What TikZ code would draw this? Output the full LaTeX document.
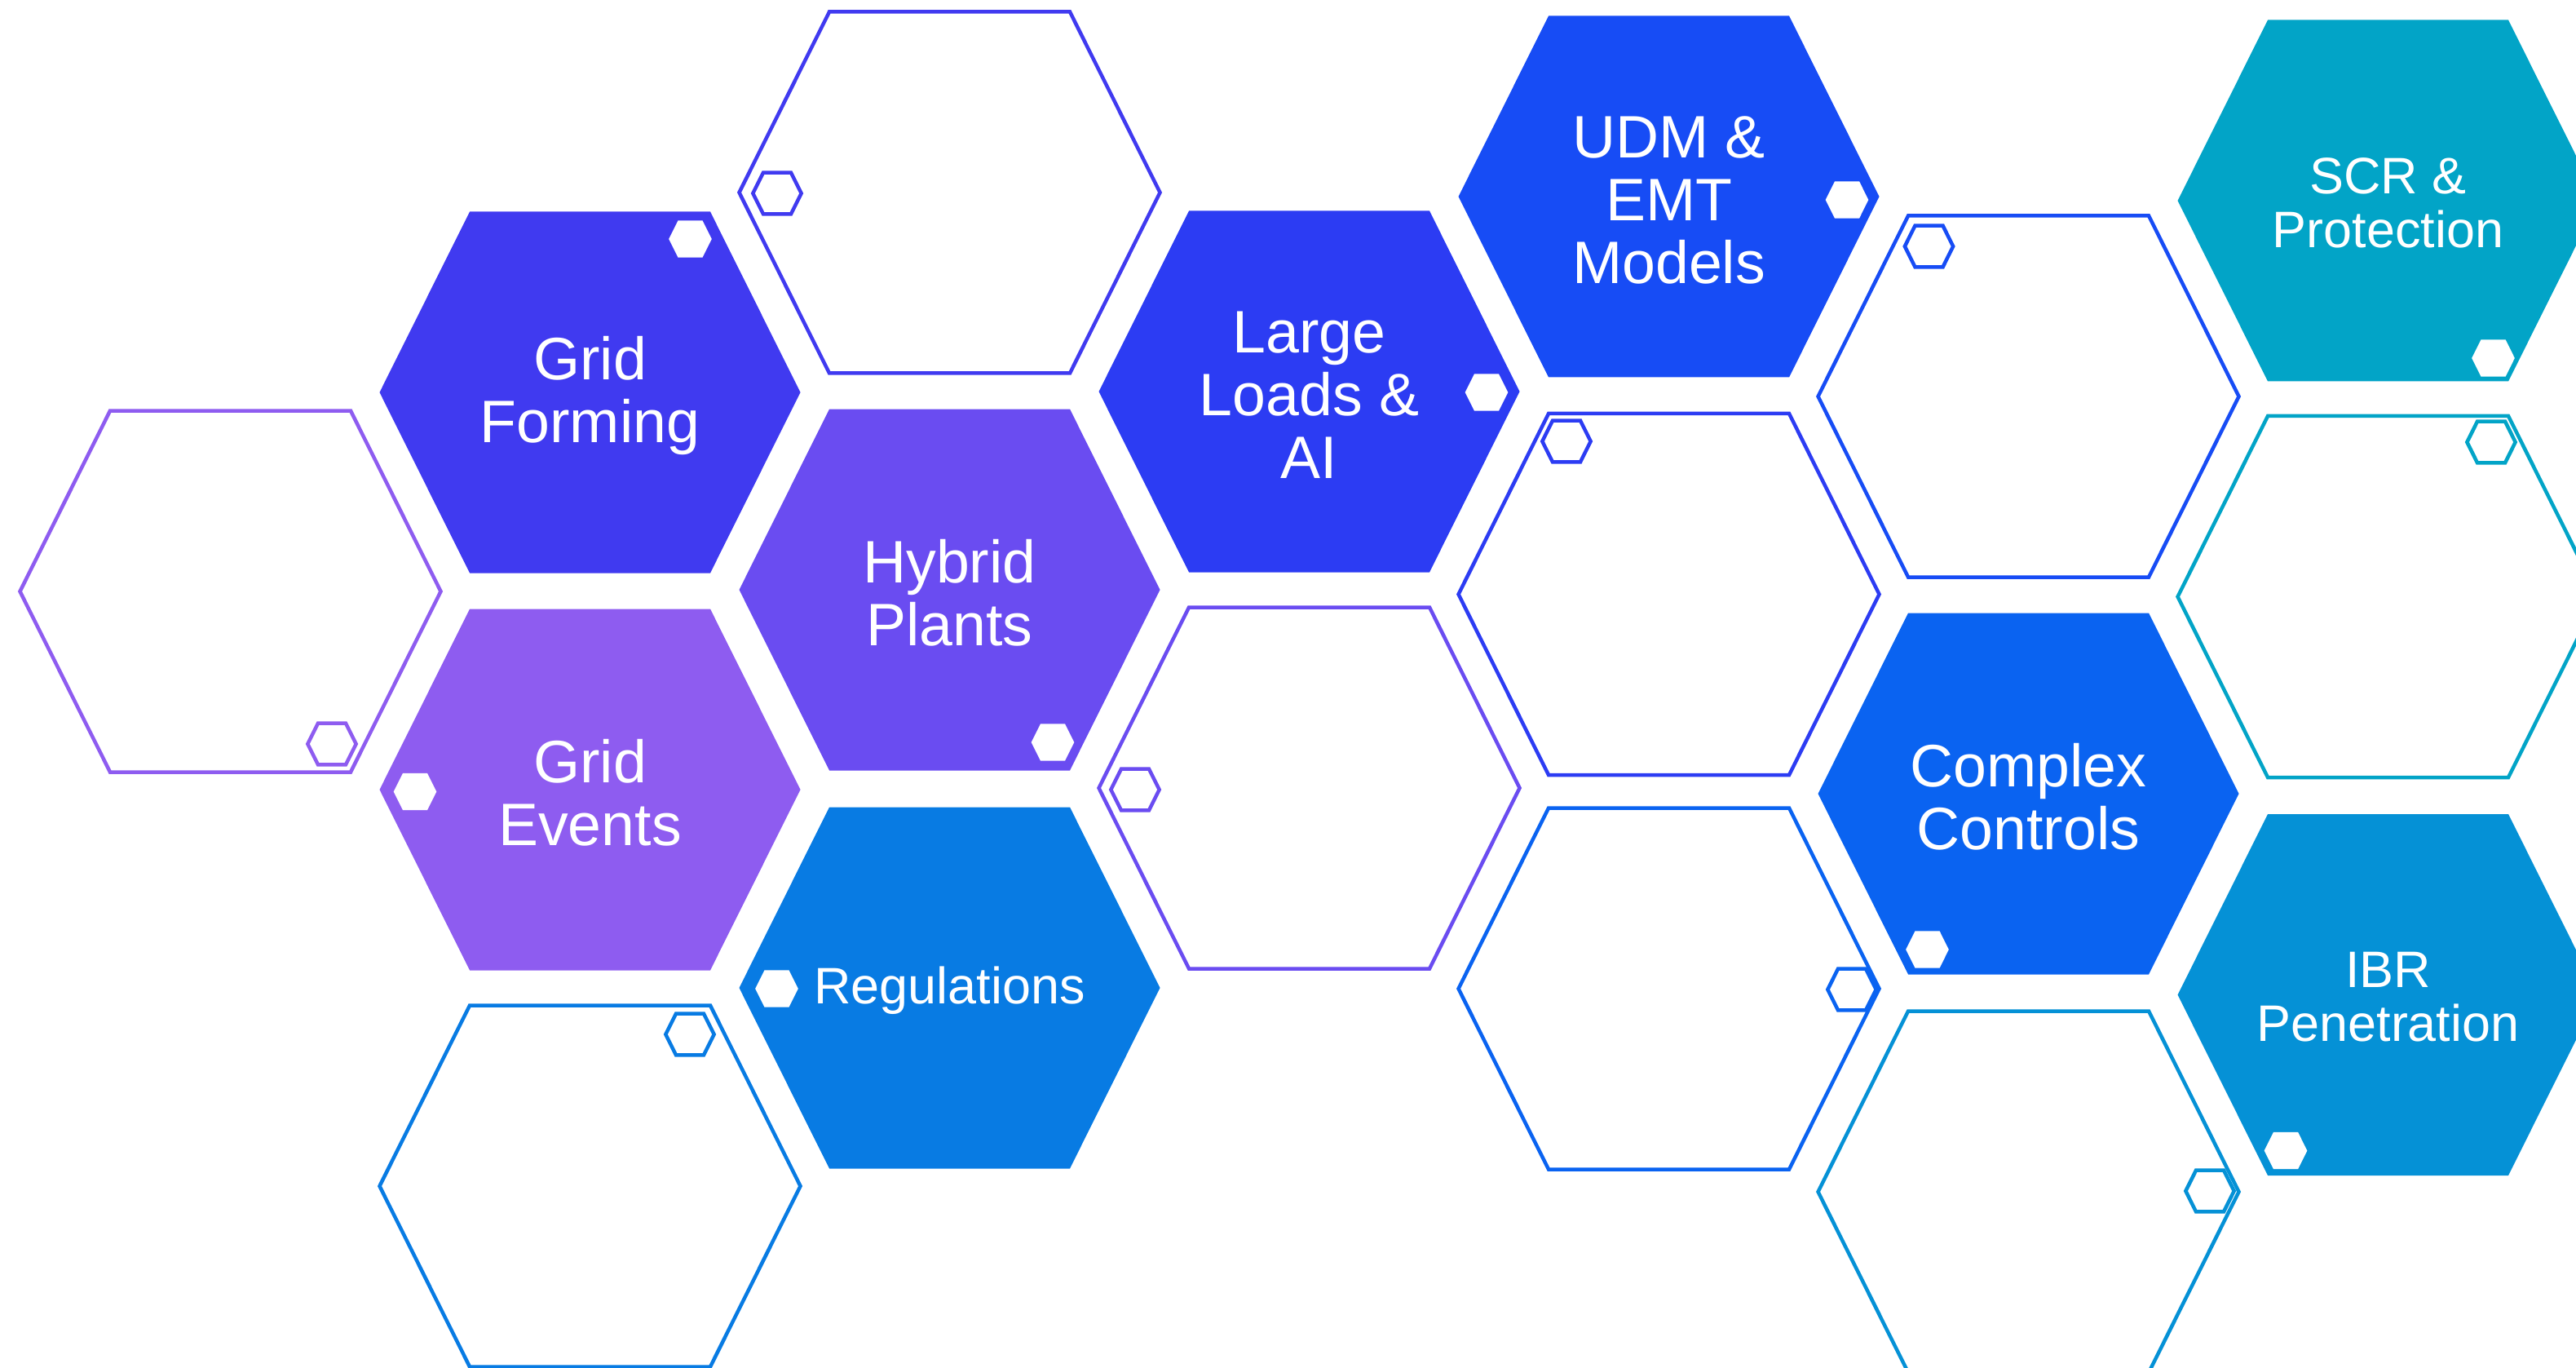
\documentclass[tikz,border=0pt]{standalone}
\usepackage{fontspec}
\setmainfont{Liberation Sans}
\usepackage{xcolor}
\definecolor{gridform}{HTML}{403AF0}
\definecolor{gridevents}{HTML}{8E5CF0}
\definecolor{hybrid}{HTML}{6A4CF1}
\definecolor{regul}{HTML}{087BE3}
\definecolor{largeloads}{HTML}{2C3CF3}
\definecolor{udm}{HTML}{174CF5}
\definecolor{complexc}{HTML}{0A63F1}
\definecolor{scr}{HTML}{02A4C7}
\definecolor{ibr}{HTML}{0591D6}

\begin{document}
\begin{tikzpicture}[
		hexa/.pic={\path[pic actions] (-2.58,0) -- (-1.475,2.215) -- (1.475,2.215) -- (2.58,0) -- (1.475,-2.215) -- (-1.475,-2.215) -- cycle;},
		rim/.style={draw, fill=white, line width=0.045cm},
		dot/.style={fill=white, scale=0.102},
		ring/.style={draw, fill=white, line width=0.045cm, scale=0.115},
		hextext/.style={text=white, align=center, yshift=-0.04cm, font=\fontsize{20.9}{21.9}\selectfont},
		hextextsm/.style={text=white, align=center, yshift=-0.03cm, font=\fontsize{17.9}{18.8}\selectfont}]
		\useasboundingbox (0,0) rectangle (31.59,16.76);
		\clip (0,0) rectangle (31.59,16.76);
		% filled hexagons
		\pic[fill=gridform] at (7.235,11.95) {hexa};
		\pic[fill=gridevents] at (7.235,7.08) {hexa};
		\pic[fill=hybrid] at (11.645,9.53) {hexa};
		\pic[fill=regul] at (11.645,4.65) {hexa};
		\pic[fill=largeloads] at (16.055,11.96) {hexa};
		\pic[fill=udm] at (20.465,14.35) {hexa};
		\pic[fill=complexc] at (24.875,7.03) {hexa};
		\pic[fill=scr] at (29.285,14.30) {hexa};
		\pic[fill=ibr] at (29.285,4.565) {hexa};
		% empty hexagons
		\pic[rim, draw=gridevents] at (2.825,9.51) {hexa};
		\pic[rim, draw=regul] at (7.235,2.22) {hexa};
		\pic[rim, draw=gridform] at (11.645,14.40) {hexa};
		\pic[rim, draw=hybrid] at (16.055,7.10) {hexa};
		\pic[rim, draw=largeloads] at (20.465,9.475) {hexa};
		\pic[rim, draw=complexc] at (20.465,4.64) {hexa};
		\pic[rim, draw=udm] at (24.875,11.90) {hexa};
		\pic[rim, draw=ibr] at (24.875,2.15) {hexa};
		\pic[rim, draw=scr] at (29.285,9.445) {hexa};
		% small hexagons
		\pic[dot] at (8.465,13.83) {hexa};
		\pic[dot] at (5.09,7.055) {hexa};
		\pic[dot] at (12.91,7.66) {hexa};
		\pic[dot] at (9.525,4.64) {hexa};
		\pic[dot] at (18.23,11.95) {hexa};
		\pic[dot] at (22.65,14.31) {hexa};
		\pic[dot] at (23.635,5.12) {hexa};
		\pic[dot] at (30.575,12.37) {hexa};
		\pic[dot] at (28.03,2.655) {hexa};
		\pic[ring, draw=gridevents] at (4.07,7.64) {hexa};
		\pic[ring, draw=regul] at (8.46,4.08) {hexa};
		\pic[ring, draw=gridform] at (9.53,14.39) {hexa};
		\pic[ring, draw=hybrid] at (13.92,7.08) {hexa};
		\pic[ring, draw=largeloads] at (19.21,11.35) {hexa};
		\pic[ring, draw=complexc] at (22.71,4.63) {hexa};
		\pic[ring, draw=udm] at (23.655,13.74) {hexa};
		\pic[ring, draw=ibr] at (27.10,2.16) {hexa};
		\pic[ring, draw=scr] at (30.55,11.34) {hexa};
		% texts
		\node[hextext] (gridform) at (7.235,11.95) {Grid\\Forming};
		\node[hextext] (gridevents) at (7.235,7.08) {Grid\\Events};
		\node[hextext] (hybrid) at (11.645,9.53) {Hybrid\\Plants};
		\node[hextextsm] (regul) at (11.645,4.65) {Regulations};
		\node[hextext] (largeloads) at (16.055,11.96) {Large\\Loads \&\\AI};
		\node[hextext] (udm) at (20.465,14.35) {UDM \&\\EMT\\Models};
		\node[hextext] (complexc) at (24.875,7.03) {Complex\\Controls};
		\node[hextextsm] (scr) at (29.285,14.30) {SCR \&\\Protection};
		\node[hextextsm] (ibr) at (29.285,4.565) {IBR\\Penetration};
	\end{tikzpicture}
\end{document}
